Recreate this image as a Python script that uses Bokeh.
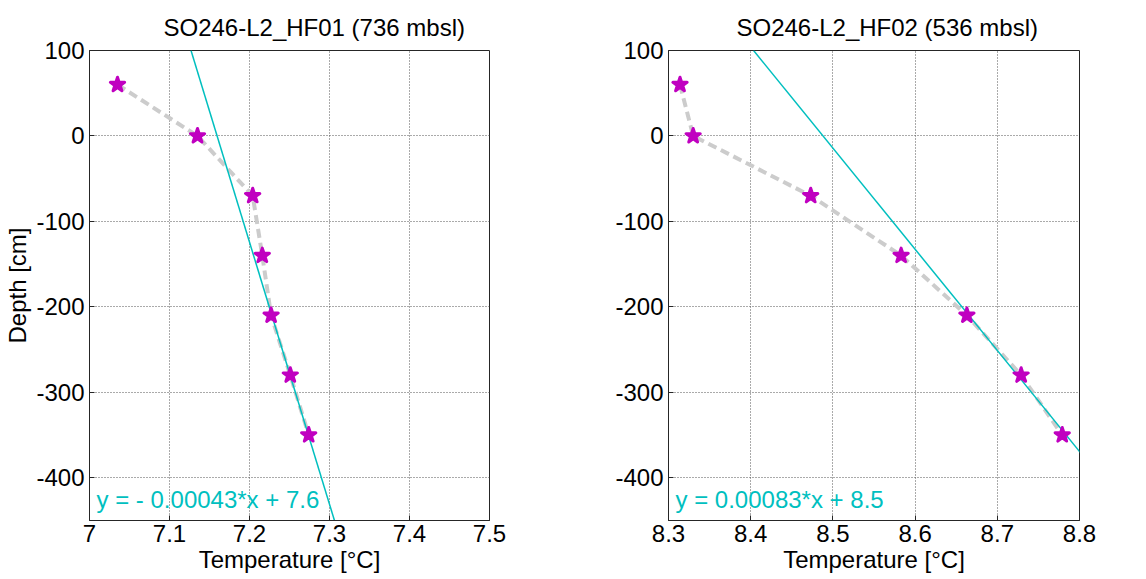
from bokeh.plotting import figure
from bokeh.layouts import row
from bokeh.models import Range1d, FixedTicker, Label, Title, PrintfTickFormatter
from bokeh.embed import file_html
from bokeh.resources import INLINE

# ---- data ----
depth = [60, 0, -70, -140, -210, -280, -350]
temp_hf01 = [7.035, 7.135, 7.204, 7.216, 7.227, 7.251, 7.274]
temp_hf02 = [8.314, 8.330, 8.473, 8.583, 8.663, 8.729, 8.779]
# fitted line  T = a + b*depth  (as drawn)
fit_hf01 = [7.1595, -0.000326]
fit_hf02 = [8.488, -0.000845]
titles = ["SO246-L2_HF01 (736 mbsl)", "SO246-L2_HF02 (536 mbsl)"]
equations = ["y = - 0.00043*x + 7.6", "y = 0.00083*x + 8.5"]
xticks_hf01 = [7.0, 7.1, 7.2, 7.3, 7.4, 7.5]
xticks_hf02 = [8.3, 8.4, 8.5, 8.6, 8.7, 8.8]
yticks = [-400, -300, -200, -100, 0, 100]
depth_range = [-450, 100]

FONT = "Liberation Sans"
FS = "24px"
CYAN = "#00BFBF"
MAG = "#C000C0"
AXC = "#262626"


def style_axis(ax):
    ax.major_label_text_font = FONT
    ax.major_label_text_font_size = FS
    ax.major_label_text_color = "#000000"
    ax.axis_label_text_font = FONT
    ax.axis_label_text_font_size = FS
    ax.axis_label_text_font_style = "normal"
    ax.axis_label_text_color = "#000000"
    ax.major_tick_in = 5
    ax.major_tick_out = 0
    ax.minor_tick_in = 0
    ax.minor_tick_out = 0
    ax.axis_line_color = AXC
    ax.major_tick_line_color = AXC


def make_panel(temps, fit, title, eq, xticks, ylabel, width, bl, br, tcenter_off):
    p = figure(width=width, height=579, output_backend="svg", toolbar_location=None,
               x_range=Range1d(xticks[0], xticks[-1]),
               y_range=Range1d(depth_range[0], depth_range[1]),
               min_border_left=bl, min_border_right=br, min_border_top=50,
               min_border_bottom=59)
    p.title = Title(text=title, text_font=FONT, text_font_size=FS,
                    text_font_style="normal", align="left", offset=tcenter_off,
                    text_color="#000000", standoff=8, padding=6)
    xa = p.below[0]
    ya = p.left[0]
    style_axis(xa)
    style_axis(ya)
    xa.ticker = FixedTicker(ticks=xticks)
    ya.ticker = FixedTicker(ticks=yticks)
    ya.formatter = PrintfTickFormatter(format="%d")
    xa.axis_label = "Temperature [°C]"
    xa.axis_label_standoff = 1
    xa.major_label_standoff = 4
    ya.major_label_standoff = 5
    if ylabel:
        ya.axis_label = ylabel
        ya.axis_label_standoff = 2
    p.xgrid.grid_line_color = "#555555"
    p.ygrid.grid_line_color = "#555555"
    p.xgrid.grid_line_dash = "1 2"
    p.ygrid.grid_line_dash = "1 2"
    p.xgrid.grid_line_width = 1
    p.ygrid.grid_line_width = 1
    p.outline_line_color = AXC
    p.outline_line_width = 1
    p.background_fill_color = "white"
    p.border_fill_color = "white"

    # data profile
    p.line(temps, depth, line_color="#CCCCCC", line_width=4, line_dash="9 5")
    # fitted line
    ys = [depth_range[0], depth_range[1]]
    xs = [fit[0] + fit[1] * y for y in ys]
    p.line(xs, ys, line_color=CYAN, line_width=1.5)
    p.scatter(temps, depth, marker="star", size=15, fill_color=MAG,
              line_color=MAG, line_width=3, line_join="round")
    p.add_layout(Label(x=7, y=8, x_units="screen", y_units="screen", text=eq,
                       text_font=FONT, text_font_size=FS, text_color=CYAN))
    return p


p1 = make_panel(temp_hf01, fit_hf01, titles[0], equations[0], xticks_hf01,
                "Depth [cm]", 578, 89, 89, 68)
p2 = make_panel(temp_hf02, fit_hf02, titles[1], equations[1], xticks_hf02,
                None, 568, 90, 67, 62)
layout = row(p1, p2)
open("out.html", "w").write(file_html(layout, INLINE))
